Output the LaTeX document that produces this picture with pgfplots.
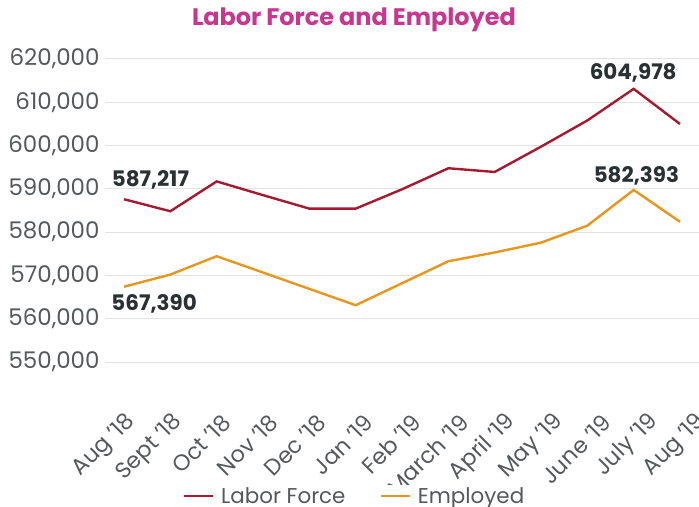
\documentclass[border=0pt]{standalone}
\usepackage{pgfplots}
\pgfplotsset{compat=1.18}
\usepackage{fontspec}
\setmainfont{Poppins}
\definecolor{lfred}{HTML}{A6192E}
\definecolor{emporange}{HTML}{E8961E}
\definecolor{titlepink}{HTML}{C7368F}
\definecolor{ticktext}{HTML}{55595C}
\definecolor{labeltext}{HTML}{2B3033}
\definecolor{gridgray}{HTML}{E2E2E2}
\begin{document}
\begin{tikzpicture}
\useasboundingbox (0bp,0bp) rectangle (699bp,507bp);
\begin{axis}[
  at={(105bp,145bp)}, anchor=south west,
  scale only axis, width=594bp, height=303bp,
  xmin=-0.41, xmax=12.41, ymin=550000, ymax=620000,
  axis line style={draw=none},
  tick style={draw=none},
  ymajorgrids, grid style={gridgray, line width=1bp},
  ytick={550000,560000,...,620000},
  scaled y ticks=false,
  /pgf/number format/.cd, assume math mode=true, 1000 sep={,}, fixed,
  /pgfplots/.cd,
  yticklabel style={font=\fontsize{23}{27}\selectfont, color=ticktext, xshift=-2bp},
  xtick={0,...,12},
  xticklabels={Aug ’18, Sept ’18, Oct ’18, Nov ’18, Dec ’18, Jan ’19, Feb ’19, March ’19, April ’19, May ’19, June ’19, July ’19, Aug ’19},
  xticklabel style={font=\fontsize{22.5}{26}\selectfont, color=ticktext, xshift={10bp+1.2bp*\ticknum}, yshift=-34bp, rotate=45, anchor=east},
  xticklabel shift=20bp,
  title={Labor Force and Employed},
  title style={font=\bfseries\fontsize{24}{28}\selectfont, color=titlepink, at={(0.419,1)}, anchor=center, yshift=33bp},
  legend style={at={(0.42,-0.443)}, anchor=center, draw=none, legend columns=2,
    font=\fontsize{21.5}{25}\selectfont, text=ticktext, nodes={inner ysep=0.5bp},
    /tikz/every odd column/.append style={column sep=5bp},
    /tikz/every even column/.append style={column sep=32bp}},
  legend image code/.code={\draw[#1] (0bp,0bp) -- (29bp,0bp);},
  every axis plot/.append style={line width=2.4bp},
]
\addplot[lfred] coordinates {
(0,587600) (1,584830) (2,591720) (3,588550) (4,585430) (5,585430) (6,589900)
(7,594760) (8,593900) (9,599750) (10,605800) (11,613100) (12,604978)};
\addlegendentry{Labor Force}
\addplot[emporange] coordinates {
(0,567390) (1,570200) (2,574440) (3,570670) (4,566890) (5,563120) (6,568200)
(7,573280) (8,575300) (9,577580) (10,581500) (11,589750) (12,582393)};
\addlegendentry{Employed}
\node[font=\bfseries\fontsize{21.5}{25}\selectfont, text=labeltext] at (axis cs:0.57,592100) {587,217};
\node[font=\bfseries\fontsize{21.5}{25}\selectfont, text=labeltext] at (axis cs:0.65,563500) {567,390};
\node[font=\bfseries\fontsize{21.5}{25}\selectfont, text=labeltext] at (axis cs:10.99,616700) {604,978};
\node[font=\bfseries\fontsize{21.5}{25}\selectfont, text=labeltext] at (axis cs:11.06,592900) {582,393};
\end{axis}
\end{tikzpicture}
\end{document}
